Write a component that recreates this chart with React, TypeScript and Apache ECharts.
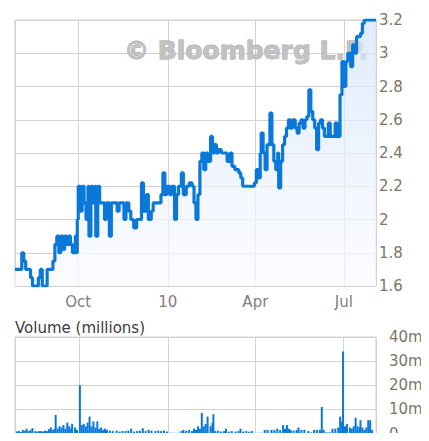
import React, { useEffect, useRef } from "react";
import * as echarts from "echarts";

const startDate = "2009-07-28";
const endDate = "2010-08-03";

const priceDates = [
  "2009-07-28","2009-07-30","2009-08-02","2009-08-04","2009-08-06","2009-08-08","2009-08-11","2009-08-13",
  "2009-08-15","2009-08-19","2009-08-21","2009-08-23","2009-08-25","2009-08-28","2009-08-30","2009-09-02",
  "2009-09-05","2009-09-07","2009-09-09","2009-09-11","2009-09-13","2009-09-15","2009-09-17","2009-09-19",
  "2009-09-21","2009-09-23","2009-09-25","2009-09-28","2009-09-29","2009-09-30","2009-10-01","2009-10-03",
  "2009-10-05","2009-10-07","2009-10-09","2009-10-11","2009-10-12","2009-10-14","2009-10-16","2009-10-18",
  "2009-10-19","2009-10-21","2009-10-23","2009-10-26","2009-10-28","2009-10-30","2009-11-02","2009-11-04",
  "2009-11-07","2009-11-10","2009-11-12","2009-11-15","2009-11-17","2009-11-19","2009-11-22","2009-11-24",
  "2009-11-27","2009-11-30","2009-12-03","2009-12-05","2009-12-07","2009-12-10","2009-12-12","2009-12-15",
  "2009-12-17","2009-12-20","2009-12-23","2009-12-25","2009-12-27","2009-12-29","2009-12-31","2010-01-03",
  "2010-01-05","2010-01-08","2010-01-10","2010-01-12","2010-01-15","2010-01-17","2010-01-20","2010-01-23",
  "2010-01-26","2010-01-28","2010-01-30","2010-02-01","2010-02-03","2010-02-05","2010-02-07","2010-02-09",
  "2010-02-11","2010-02-14","2010-02-16","2010-02-18","2010-02-20","2010-02-22","2010-02-25","2010-02-28",
  "2010-03-03","2010-03-06","2010-03-08","2010-03-11","2010-03-15","2010-03-17","2010-03-19","2010-03-22",
  "2010-03-25","2010-03-28","2010-03-31","2010-04-02","2010-04-04","2010-04-06","2010-04-07","2010-04-09",
  "2010-04-11","2010-04-13","2010-04-16","2010-04-18","2010-04-20","2010-04-22","2010-04-24","2010-04-25",
  "2010-04-27","2010-04-29","2010-05-01","2010-05-03","2010-05-05","2010-05-07","2010-05-09","2010-05-12",
  "2010-05-14","2010-05-16","2010-05-18","2010-05-20","2010-05-22","2010-05-24","2010-05-26","2010-05-28",
  "2010-05-30","2010-06-01","2010-06-03","2010-06-05","2010-06-07","2010-06-09","2010-06-11","2010-06-13",
  "2010-06-15","2010-06-17","2010-06-20","2010-06-22","2010-06-24","2010-06-26","2010-06-27","2010-06-29",
  "2010-07-01","2010-07-03","2010-07-05","2010-07-08","2010-07-10","2010-07-12","2010-07-14","2010-07-16",
  "2010-07-18","2010-07-20","2010-07-22","2010-07-25","2010-07-28","2010-07-31","2010-08-03",
];

const priceValues = [
  1.70,1.70,1.70,1.80,1.75,1.70,1.70,1.65,
  1.60,1.60,1.65,1.70,1.60,1.60,1.70,1.70,
  1.75,1.85,1.90,1.80,1.90,1.82,1.90,1.85,
  1.90,1.85,1.80,1.90,1.80,2.00,2.20,2.05,
  2.20,2.10,2.00,2.20,1.90,2.20,2.10,2.20,
  1.90,2.20,2.10,2.10,2.00,2.10,1.90,2.10,
  2.10,2.05,2.10,2.10,2.00,2.10,2.05,2.00,
  1.95,2.00,2.00,2.22,2.05,2.15,2.00,2.05,
  2.10,2.10,2.10,2.15,2.28,2.15,2.20,2.15,
  2.20,2.00,2.15,2.20,2.28,2.15,2.20,2.22,
  2.20,2.10,2.00,2.15,2.35,2.40,2.30,2.40,
  2.35,2.50,2.40,2.45,2.40,2.42,2.40,2.40,
  2.35,2.40,2.32,2.30,2.28,2.25,2.20,2.20,
  2.20,2.20,2.22,2.30,2.25,2.40,2.52,2.40,
  2.30,2.45,2.64,2.45,2.35,2.30,2.40,2.19,
  2.35,2.45,2.50,2.55,2.60,2.55,2.60,2.55,
  2.52,2.58,2.60,2.55,2.60,2.62,2.78,2.65,
  2.60,2.55,2.42,2.58,2.60,2.55,2.50,2.50,
  2.58,2.50,2.50,2.58,2.50,2.50,2.75,2.95,
  2.80,2.95,3.00,2.92,3.05,3.00,3.10,3.10,
  3.12,3.18,3.20,3.20,3.20,3.20,3.20,
];

const volumeDates = [
  "2009-07-29","2009-07-31","2009-08-02","2009-08-04","2009-08-06","2009-08-08","2009-08-10","2009-08-12",
  "2009-08-14","2009-08-17","2009-08-19","2009-08-21","2009-08-23","2009-08-25","2009-08-27","2009-08-29",
  "2009-08-31","2009-09-02","2009-09-04","2009-09-06","2009-09-07","2009-09-09","2009-09-11","2009-09-13",
  "2009-09-15","2009-09-17","2009-09-19","2009-09-21","2009-09-23","2009-09-24","2009-09-27","2009-09-29",
  "2009-10-02","2009-10-04","2009-10-06","2009-10-08","2009-10-10","2009-10-12","2009-10-14","2009-10-16",
  "2009-10-18","2009-10-20","2009-10-22","2009-10-24","2009-10-26","2009-10-28","2009-10-30","2009-11-02",
  "2009-11-05","2009-11-09","2009-11-12","2009-11-15","2009-11-18","2009-11-21","2009-11-24","2009-11-27",
  "2009-11-30","2009-12-03","2009-12-06","2009-12-09","2009-12-12","2009-12-15","2009-12-19","2009-12-22",
  "2009-12-25","2009-12-28","2009-12-31","2010-01-03","2010-01-06","2010-01-09","2010-01-12","2010-01-15",
  "2010-01-17","2010-01-20","2010-01-23","2010-01-26","2010-01-28","2010-01-30","2010-02-01","2010-02-03",
  "2010-02-05","2010-02-07","2010-02-09","2010-02-11","2010-02-14","2010-02-16","2010-02-17","2010-02-19",
  "2010-02-22","2010-02-25","2010-02-28","2010-03-02","2010-03-05","2010-03-08","2010-03-12","2010-03-15",
  "2010-03-17","2010-03-20","2010-03-23","2010-03-26","2010-03-29","2010-04-02","2010-04-05","2010-04-08",
  "2010-04-11","2010-04-14","2010-04-18","2010-04-21","2010-04-24","2010-04-27","2010-04-30","2010-05-02",
  "2010-05-04","2010-05-06","2010-05-08","2010-05-11","2010-05-14","2010-05-16","2010-05-19","2010-05-22",
  "2010-05-26","2010-05-29","2010-06-01","2010-06-04","2010-06-07","2010-06-09","2010-06-11","2010-06-14",
  "2010-06-17","2010-06-20","2010-06-23","2010-06-26","2010-06-28","2010-06-30","2010-07-01","2010-07-03",
  "2010-07-05","2010-07-08","2010-07-10","2010-07-12","2010-07-14","2010-07-16","2010-07-18","2010-07-19",
  "2010-07-21","2010-07-23","2010-07-25","2010-07-27","2010-07-29","2010-07-31",
];

const volumeValues = [
  0.8,1.0,0.6,1.5,1.2,2.0,1.0,1.4,
  2.2,1.0,0.8,1.0,1.0,0.8,1.2,1.0,
  1.8,2.5,1.5,2.0,7.7,2.0,3.0,2.5,
  3.5,2.0,4.5,3.0,2.0,4.0,2.5,1.5,
  20.0,3.5,4.0,3.0,4.5,7.0,3.0,5.0,
  2.5,5.0,2.0,2.5,1.5,2.0,1.5,1.2,
  1.0,1.2,0.8,1.0,1.0,1.2,2.0,0.8,
  1.0,1.2,2.2,1.0,1.5,1.2,1.0,1.2,
  1.0,1.2,0.8,0.3,0.3,0.3,0.3,1.0,
  1.5,1.2,1.5,1.0,2.0,1.5,3.0,2.0,
  8.5,3.0,4.0,7.0,3.0,4.5,8.0,1.0,
  1.2,0.8,1.0,2.0,0.8,1.0,0.8,1.0,
  2.0,0.8,1.0,0.8,1.0,0.3,0.3,0.3,
  1.5,1.5,1.5,1.5,2.0,1.5,3.5,2.0,
  3.5,2.0,1.5,1.2,1.5,2.5,1.5,1.5,
  1.0,0.5,1.5,1.5,1.5,11.0,1.5,0.5,
  0.5,2.0,2.0,2.5,7.0,5.0,34.0,3.0,
  4.0,2.5,2.0,3.0,6.5,3.0,2.5,5.5,
  2.5,1.5,2.5,5.5,5.5,1.5,
];

const priceTicks = [1.6, 1.8, 2.0, 2.2, 2.4, 2.6, 2.8, 3.0, 3.2];
const volumeTicks = [0, 10, 20, 30, 40];
const monthLabels = ["", "", "", "Apr", "", "", "Jul", "", "", "Oct", "", ""];

const LINE_BLUE = "#0a78d8";
const GRID_GRAY = "#d2d2d2";
const YLABEL = "#7d7566";
const XLABEL = "#808080";
const FONT = "DejaVu Sans";

function quarterLabel(value: number) {
  const d = new Date(value);
  const m = d.getMonth();
  if (m === 0) return String(d.getFullYear()).slice(2);
  return monthLabels[m];
}

export default function App() {
  const ref = useRef<HTMLDivElement>(null);

  useEffect(() => {
    if (!ref.current) return;
    const chart = echarts.init(ref.current, null, { renderer: "svg" });
    const priceData = priceDates.map((d, i) => [d, priceValues[i]]);
    const volumeData = volumeDates.map((d, i) => [d, volumeValues[i]]);

    const option = {
      animation: false,
      grid: [
        { left: 15, right: 53, top: 20, height: 266, show: true, borderColor: GRID_GRAY, borderWidth: 1 },
        { left: 15, right: 53, top: 337, height: 99, show: true, borderColor: GRID_GRAY, borderWidth: 1 },
      ],
      xAxis: [
        {
          type: "time",
          gridIndex: 0,
          min: startDate,
          max: endDate,
          splitNumber: 4,
          axisLine: { show: false },
          axisTick: { show: false },
          splitLine: { show: true, lineStyle: { color: GRID_GRAY, width: 1 } },
          axisLabel: {
            formatter: quarterLabel,
            color: XLABEL,
            fontSize: 15,
            fontFamily: FONT,
            margin: 8,
            showMinLabel: false,
            showMaxLabel: false,
          },
        },
        {
          type: "time",
          gridIndex: 1,
          min: startDate,
          max: endDate,
          splitNumber: 4,
          axisLine: { show: false },
          axisTick: { show: false },
          splitLine: { show: true, lineStyle: { color: GRID_GRAY, width: 1 } },
          axisLabel: { show: false },
        },
      ],
      yAxis: [
        {
          type: "value",
          gridIndex: 0,
          position: "right",
          min: priceTicks[0],
          max: priceTicks[priceTicks.length - 1],
          interval: 0.2,
          axisLine: { show: false },
          axisTick: { show: false },
          splitLine: { show: true, lineStyle: { color: GRID_GRAY, width: 1 } },
          axisLabel: {
            color: YLABEL,
            fontSize: 15,
            fontFamily: FONT,
            margin: 3,
            formatter: (v: number) => String(Math.round(v * 10) / 10),
          },
        },
        {
          type: "value",
          gridIndex: 1,
          position: "right",
          min: volumeTicks[0],
          max: volumeTicks[volumeTicks.length - 1],
          interval: 10,
          axisLine: { show: false },
          axisTick: { show: false },
          splitLine: { show: true, lineStyle: { color: GRID_GRAY, width: 1 } },
          axisLabel: {
            color: YLABEL,
            fontSize: 15,
            fontFamily: FONT,
            margin: 13,
            formatter: (v: number) => (v === 0 ? "0" : v + "m"),
          },
        },
      ],
      graphic: [
        {
          type: "text",
          x: 124,
          y: 50,
          z: 1,
          style: {
            text: "© Bloomberg L.P.",
            font: 'bold 25px "DejaVu Sans"',
            fill: "#c2c2c2",
            stroke: "#a2a2a2",
            lineWidth: 0.8,
            verticalAlign: "middle",
          },
        },
        {
          type: "text",
          x: 15,
          y: 320,
          style: {
            text: "Volume (millions)",
            font: '15px "DejaVu Sans"',
            fill: "#3c3c3c",
            verticalAlign: "top",
          },
        },
      ],
      series: [
        {
          type: "line",
          xAxisIndex: 0,
          yAxisIndex: 0,
          step: "end",
          symbol: "none",
          data: priceData,
          lineStyle: { color: LINE_BLUE, width: 3.2 },
          areaStyle: {
            origin: "start",
            color: new echarts.graphic.LinearGradient(0, 0, 0, 1, [
              { offset: 0, color: "#d3e4fa" },
              { offset: 1, color: "#fbfbff" },
            ]),
          },
          z: 3,
        },
        {
          type: "bar",
          xAxisIndex: 1,
          yAxisIndex: 1,
          data: volumeData,
          barWidth: 2,
          itemStyle: { color: LINE_BLUE },
        },
      ],
    };

    chart.setOption(option as any);
    return () => chart.dispose();
  }, []);

  return (
    <div style={{ margin: -8 }}>
      <div ref={ref} style={{ width: 429, height: 441 }} />
    </div>
  );
}
